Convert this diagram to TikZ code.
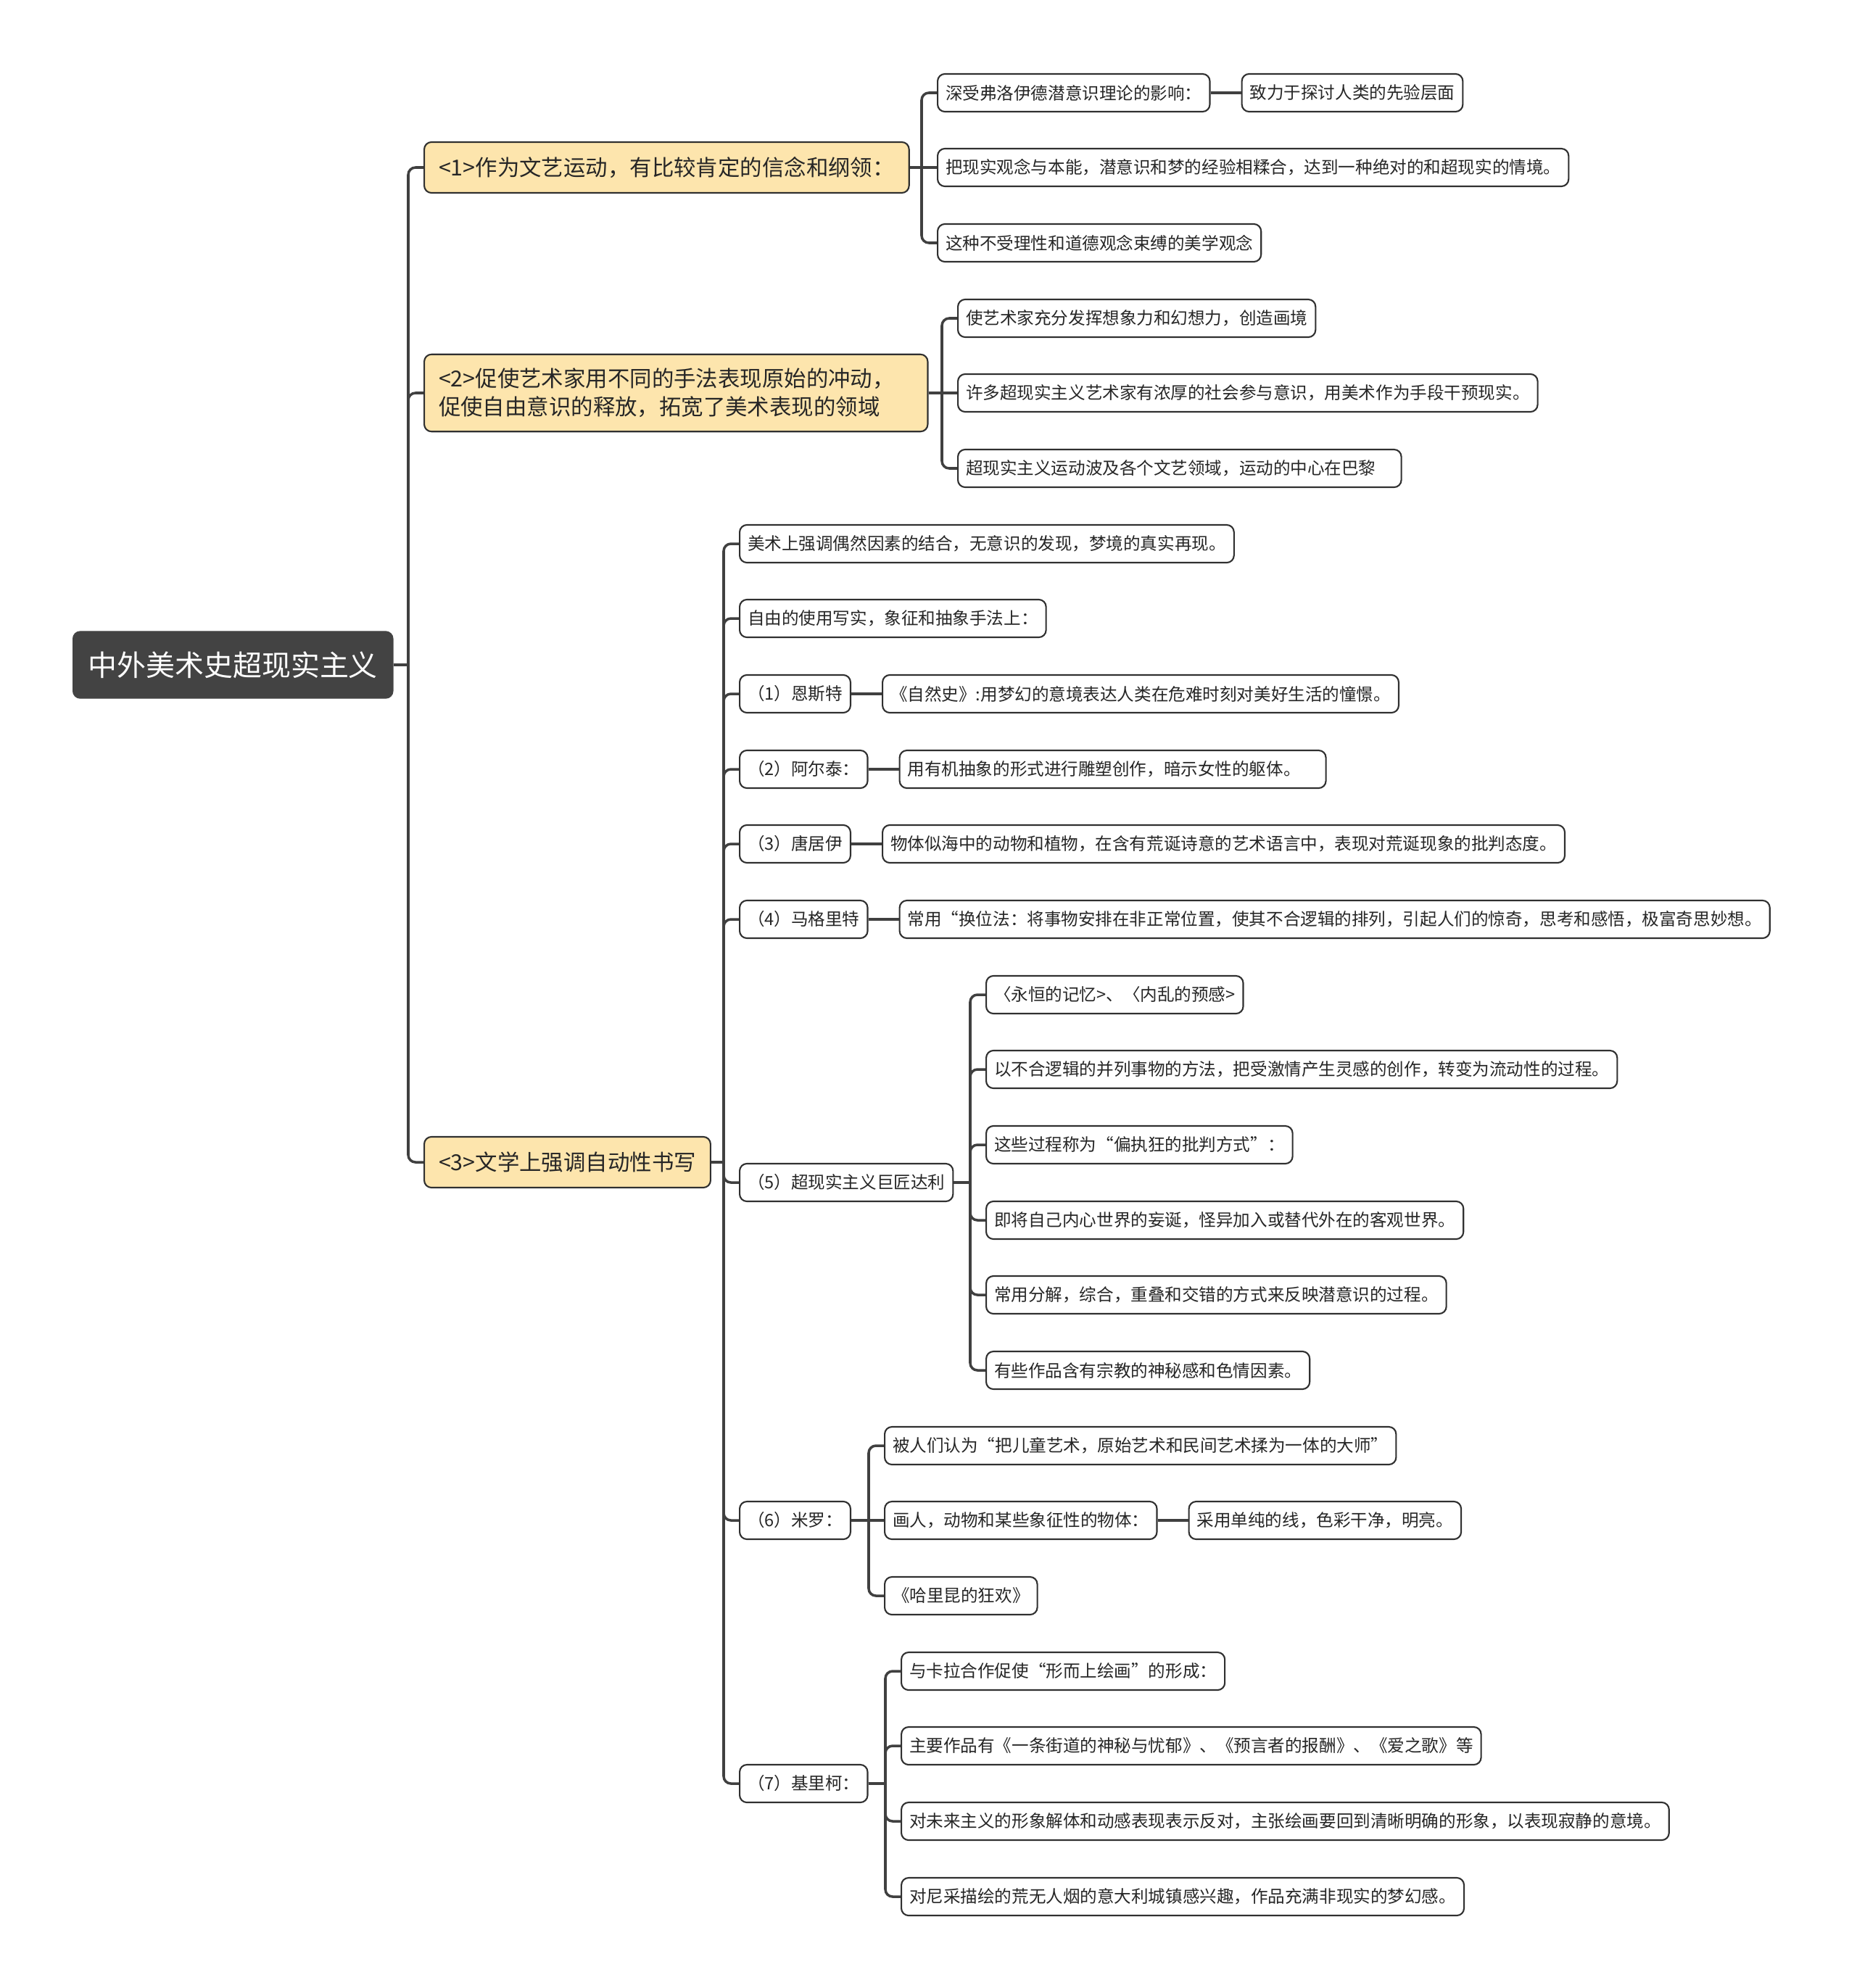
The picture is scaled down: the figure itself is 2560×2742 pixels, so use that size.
\documentclass[tikz,border=0pt]{standalone}
\usepackage{fontspec}
\setmainfont{Noto Sans CJK SC}
\usepackage{tikz}
\usetikzlibrary{positioning,calc}
\definecolor{linegray}{HTML}{404040}
\definecolor{rootgray}{HTML}{434343}
\definecolor{topicyellow}{HTML}{FDE5AD}
\definecolor{boxline}{HTML}{303030}

\begin{document}
\begin{tikzpicture}[x=0.01cm, y=-0.01cm, node distance=4.2mm,
  root/.style={draw=rootgray,fill=rootgray,text=white,rounded corners=1mm,anchor=west,inner xsep=2.1mm,minimum height=9.2mm,font=\fontsize{11.35}{14}\selectfont},
  topic/.style={draw=boxline,line width=0.6pt,fill=topicyellow,text=black!85,rounded corners=1mm,anchor=west,inner xsep=2mm,inner ysep=1.9mm,minimum height=7mm,align=left,font=\fontsize{8.65}{11.2}\selectfont},
  leaf/.style={draw=boxline,line width=0.6pt,fill=white,text=black!85,rounded corners=1mm,anchor=west,inner xsep=1.1mm,minimum height=5.2mm,font=\fontsize{6.7}{8}\selectfont},
  link/.style={draw=linegray,line width=1pt}]
\fill[white] (0,0) rectangle (2560,2742);
\node[root] (root) at (100,917) {中外美术史超现实主义};
% first level
\node[topic] (t1) at (584,231) {<1>作为文艺运动，有比较肯定的信念和纲领：};
\node[topic,text width=6.54cm] (t2) at (584,542) {<2>促使艺术家用不同的手法表现原始的冲动，\\促使自由意识的释放，拓宽了美术表现的领域};
\node[topic] (t3) at (584,1603) {<3>文学上强调自动性书写};
% <1>
\node[leaf] (a1) at (1292,128) {深受弗洛伊德潜意识理论的影响：};
\node[leaf,right=of a1] (a1x) {致力于探讨人类的先验层面};
\node[leaf] (a2) at (1292,231) {把现实观念与本能，潜意识和梦的经验相糅合，达到一种绝对的和超现实的情境。};
\node[leaf] (a3) at (1292,335) {这种不受理性和道德观念束缚的美学观念};
% <2>
\node[leaf] (b1) at (1320,439) {使艺术家充分发挥想象力和幻想力，创造画境};
\node[leaf] (b2) at (1320,542) {许多超现实主义艺术家有浓厚的社会参与意识，用美术作为手段干预现实。};
\node[leaf] (b3) at (1320,646) {超现实主义运动波及各个文艺领域，运动的中心在巴黎\kern2.4mm};
% <3>
\node[leaf] (c1) at (1019,750) {美术上强调偶然因素的结合，无意识的发现，梦境的真实再现。};
\node[leaf] (c2) at (1019,853) {自由的使用写实，象征和抽象手法上：};
\node[leaf] (c3) at (1019,957) {（1）恩斯特};
\node[leaf,right=of c3] (c3x) {《自然史》:用梦幻的意境表达人类在危难时刻对美好生活的憧憬。};
\node[leaf] (c4) at (1019,1061) {（2）阿尔泰：};
\node[leaf,right=of c4] (c4x) {用有机抽象的形式进行雕塑创作，暗示女性的躯体。\kern2.4mm};
\node[leaf] (c5) at (1019,1164) {（3）唐居伊};
\node[leaf,right=of c5] (c5x) {物体似海中的动物和植物，在含有荒诞诗意的艺术语言中，表现对荒诞现象的批判态度。};
\node[leaf] (c6) at (1019,1268) {（4）马格里特};
\node[leaf,right=of c6] (c6x) {常用“换位法：将事物安排在非正常位置，使其不合逻辑的排列，引起人们的惊奇，思考和感悟，极富奇思妙想。};
\node[leaf] (c7) at (1019,1631) {（5）超现实主义巨匠达利};
\node[leaf] (d1) at (1359,1372) {〈永恒的记忆>、〈内乱的预感>};
\node[leaf] (d2) at (1359,1475) {以不合逻辑的并列事物的方法，把受激情产生灵感的创作，转变为流动性的过程。};
\node[leaf] (d3) at (1359,1579) {这些过程称为“偏执狂的批判方式”：};
\node[leaf] (d4) at (1359,1683) {即将自己内心世界的妄诞，怪异加入或替代外在的客观世界。};
\node[leaf] (d5) at (1359,1786) {常用分解，综合，重叠和交错的方式来反映潜意识的过程。};
\node[leaf] (d6) at (1359,1890) {有些作品含有宗教的神秘感和色情因素。};
\node[leaf] (c8) at (1019,2097) {（6）米罗：};
\node[leaf] (e1) at (1219,1994) {被人们认为“把儿童艺术，原始艺术和民间艺术揉为一体的大师”};
\node[leaf] (e2) at (1219,2097) {画人，动物和某些象征性的物体：};
\node[leaf,right=of e2] (e2x) {采用单纯的线，色彩干净，明亮。};
\node[leaf] (e3) at (1219,2201) {《哈里昆的狂欢》};
\node[leaf] (c9) at (1019,2460) {（7）基里柯：};
\node[leaf] (f1) at (1242,2305) {与卡拉合作促使“形而上绘画”的形成：};
\node[leaf] (f2) at (1242,2408) {主要作品有《一条街道的神秘与忧郁》、《预言者的报酬》、《爱之歌》等};
\node[leaf] (f3) at (1242,2512) {对未来主义的形象解体和动感表现表示反对，主张绘画要回到清晰明确的形象，以表现寂静的意境。};
\node[leaf] (f4) at (1242,2616) {对尼采描绘的荒无人烟的意大利城镇感兴趣，作品充满非现实的梦幻感。};
% connectors
\foreach \p/\c in {root/t1,root/t2,root/t3,t1/a1,t1/a3,t2/b1,t2/b3,
  t3/c1,t3/c2,t3/c3,t3/c4,t3/c5,t3/c6,t3/c7,t3/c8,t3/c9,
  c7/d1,c7/d2,c7/d3,c7/d4,c7/d5,c7/d6,c8/e1,c8/e3,c9/f1,c9/f2,c9/f3,c9/f4} {
  \coordinate (j) at ($(\p.east -| \c.west)+(-2.1mm,0)$);
  \draw[link] (\p.east) -- (j);
  \draw[link,rounded corners=1mm] (j) |- (\c.west);
}
\foreach \p/\c in {t1/a2,t2/b2,a1/a1x,c3/c3x,c4/c4x,c5/c5x,c6/c6x,c8/e2,e2/e2x}
  \draw[link] (\p.east) -- (\c.west);
\end{tikzpicture}
\end{document}
